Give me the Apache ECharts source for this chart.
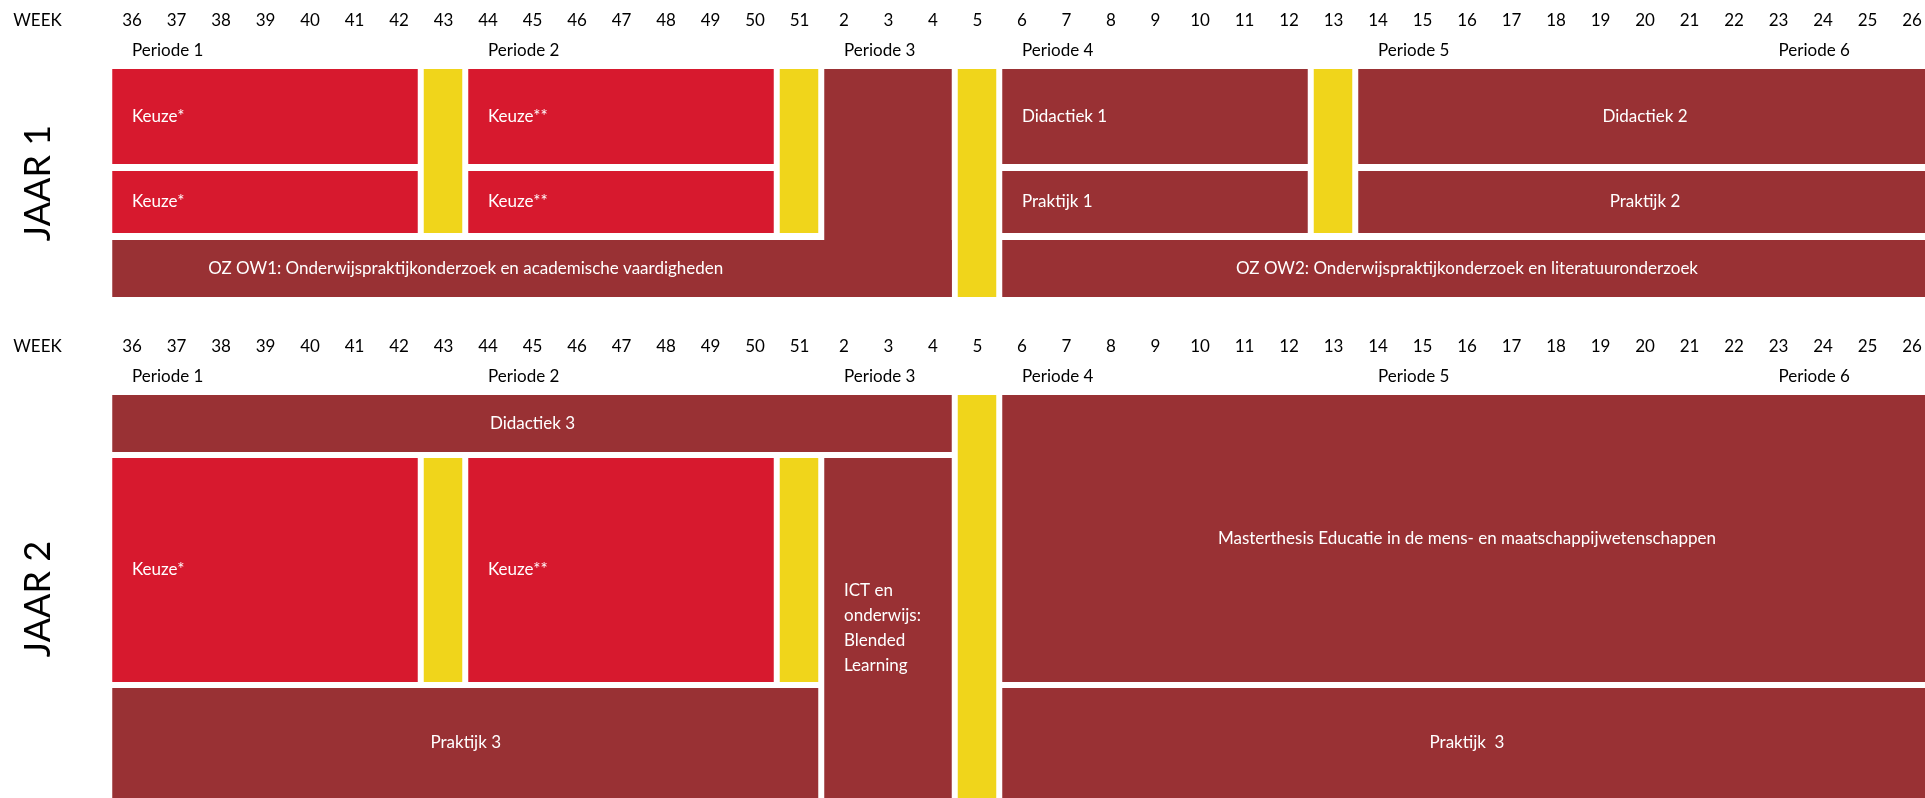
<!DOCTYPE html>
<html>
<head>
<meta charset="utf-8">
<script src="https://cdn.jsdelivr.net/npm/echarts@6/dist/echarts.min.js"></script>
<style>
html,body{margin:0;padding:0;background:#ffffff;}
#chart{width:1925px;height:798px;}
</style>
</head>
<body>
<div id="chart"></div>
<script>
// ---------- DATA ----------
const weeks = [36,37,38,39,40,41,42,43,44,45,46,47,48,49,50,51,2,3,4,5,6,7,8,9,10,11,12,13,14,15,16,17,18,19,20,21,22,23,24,25,26];
const periodes = ['Periode 1','Periode 2','Periode 3','Periode 4','Periode 5','Periode 6'];
const periodeStartWeek = [36,44,2,6,14,23];
const jaren = ['JAAR 1','JAAR 2'];

// [label, fromWeek, toWeek, fromRow, toRow, type, labelAlign, labelFromWeek, labelToWeek]
const jaar1Blokken = [
  ['Keuze*', 36, 42, 0, 0, 'keuze', 'left'],
  ['Keuze*', 36, 42, 1, 1, 'keuze', 'left'],
  ['', 43, 43, 0, 1, 'vrij'],
  ['Keuze**', 44, 50, 0, 0, 'keuze', 'left'],
  ['Keuze**', 44, 50, 1, 1, 'keuze', 'left'],
  ['', 51, 51, 0, 1, 'vrij'],
  ['', 2, 4, 0, 2, 'vak'],
  ['OZ OW1: Onderwijspraktijkonderzoek en academische vaardigheden', 36, 4, 2, 2, 'vak', 'center', 36, 51],
  ['', 5, 5, 0, 2, 'vrij'],
  ['Didactiek 1', 6, 12, 0, 0, 'vak', 'left'],
  ['Praktijk 1', 6, 12, 1, 1, 'vak', 'left'],
  ['', 13, 13, 0, 1, 'vrij'],
  ['Didactiek 2', 14, 26, 0, 0, 'vak', 'center'],
  ['Praktijk 2', 14, 26, 1, 1, 'vak', 'center'],
  ['OZ OW2: Onderwijspraktijkonderzoek en literatuuronderzoek', 6, 26, 2, 2, 'vak', 'center']
];
const jaar2Blokken = [
  ['Didactiek 3', 36, 4, 0, 0, 'vak', 'center'],
  ['', 5, 5, 0, 2, 'vrij'],
  ['Masterthesis Educatie in de mens- en maatschappijwetenschappen', 6, 26, 0, 1, 'vak', 'center'],
  ['Keuze*', 36, 42, 1, 1, 'keuze', 'left'],
  ['', 43, 43, 1, 1, 'vrij'],
  ['Keuze**', 44, 50, 1, 1, 'keuze', 'left'],
  ['', 51, 51, 1, 1, 'vrij'],
  ['ICT en\nonderwijs:\nBlended\nLearning', 2, 4, 1, 2, 'vak', 'left'],
  ['Praktijk 3', 36, 51, 2, 2, 'vak', 'center'],
  ['Praktijk  3', 6, 26, 2, 2, 'vak', 'center']
];

// ---------- LAYOUT / STYLE ----------
const COLORS = { keuze: '#D7192E', vak: '#993134', vrij: '#F0D51B' };
const FONT = 'Lato, "Noto Sans", sans-serif';
const LAYOUT = {
  rows: [
    [[69,164],[171,233],[240,297]],
    [[395,452],[458,682],[688,800]]
  ],
  weekY: [21, 347],
  periodeY: [51, 377],
  jaarY: [183, 599],
  jaarX: 38,
  insetL: 2.5,
  insetR: 3.5
};

const idx = w => weeks.indexOf(w);

function blockSeries(blocks, year) {
  const rows = LAYOUT.rows[year];
  return {
    type: 'custom',
    xAxisIndex: year,
    yAxisIndex: 0,
    silent: true,
    clip: false,
    data: blocks.map(b => [idx(b[1]), idx(b[2]), b[3], b[4]]),
    renderItem: function (params, api) {
      const b = blocks[params.dataIndex];
      const i0 = api.value(0), i1 = api.value(1), r0 = api.value(2), r1 = api.value(3);
      const bw = api.size([1, 0])[0];
      const cx0 = api.coord([i0, 0])[0];
      const cx1 = api.coord([i1, 0])[0];
      const top = api.coord([0, rows[r0][0]])[1];
      const bottom = api.coord([0, rows[r1][1]])[1];
      const x0 = cx0 - bw / 2 + LAYOUT.insetL;
      const x1 = cx1 + bw / 2 - LAYOUT.insetR;
      const children = [{
        type: 'rect',
        shape: { x: x0, y: top, width: x1 - x0, height: bottom - top },
        style: { fill: COLORS[b[5]] }
      }];
      if (b[0]) {
        let tx;
        if (b[6] === 'left') {
          tx = cx0;
        } else {
          const lf = b[7] !== undefined ? idx(b[7]) : i0;
          const lt = b[8] !== undefined ? idx(b[8]) : i1;
          tx = (api.coord([lf, 0])[0] + api.coord([lt, 0])[0]) / 2;
        }
        children.push({
          type: 'text',
          x: tx, y: (top + Math.min(bottom, 798)) / 2,
          style: {
            text: b[0], fill: '#ffffff', font: '17px ' + FONT,
            align: b[6] === 'left' ? 'left' : 'center', verticalAlign: 'middle',
            lineHeight: 25
          }
        });
      }
      return { type: 'group', children: children };
    }
  };
}

function periodeSeries(year) {
  return {
    type: 'custom',
    xAxisIndex: year,
    yAxisIndex: 0,
    silent: true,
    clip: false,
    data: periodeStartWeek.map(w => [idx(w), LAYOUT.periodeY[year]]),
    renderItem: function (params, api) {
      const p = api.coord([api.value(0), api.value(1)]);
      return {
        type: 'text', x: p[0], y: p[1],
        style: { text: periodes[params.dataIndex], fill: '#000000', font: '17px ' + FONT, align: 'left', verticalAlign: 'middle' }
      };
    }
  };
}

function weekAxis(year) {
  return {
    type: 'category',
    gridIndex: 0,
    data: weeks,
    position: 'top',
    offset: -LAYOUT.weekY[year],
    boundaryGap: true,
    name: 'WEEK',
    nameLocation: 'start',
    nameGap: 48,
    nameTextStyle: { color: '#000000', fontFamily: FONT, fontSize: 17, align: 'right', verticalAlign: 'middle' },
    axisLine: { show: false },
    axisTick: { show: false },
    splitLine: { show: false },
    axisLabel: { color: '#000000', fontFamily: FONT, fontSize: 17, margin: 0, verticalAlign: 'middle', interval: 0 }
  };
}

const chart = echarts.init(document.getElementById('chart'), null, { renderer: 'canvas' });
chart.setOption({
  animation: false,
  backgroundColor: '#ffffff',
  grid: [{ left: 109.75, width: 1824.5, top: 0, height: 798, containLabel: false, outerBoundsMode: 'none' }],
  xAxis: [weekAxis(0), weekAxis(1)],
  yAxis: [{ type: 'value', gridIndex: 0, min: 0, max: 798, inverse: true, show: false }],
  graphic: jaren.map((j, k) => ({
    type: 'text',
    x: LAYOUT.jaarX, y: LAYOUT.jaarY[k],
    rotation: Math.PI / 2,
    style: { text: j, fill: '#000000', font: '36px ' + FONT, align: 'center', verticalAlign: 'middle' }
  })),
  series: [
    blockSeries(jaar1Blokken, 0),
    blockSeries(jaar2Blokken, 1),
    periodeSeries(0),
    periodeSeries(1)
  ]
});
</script>
</body>
</html>
